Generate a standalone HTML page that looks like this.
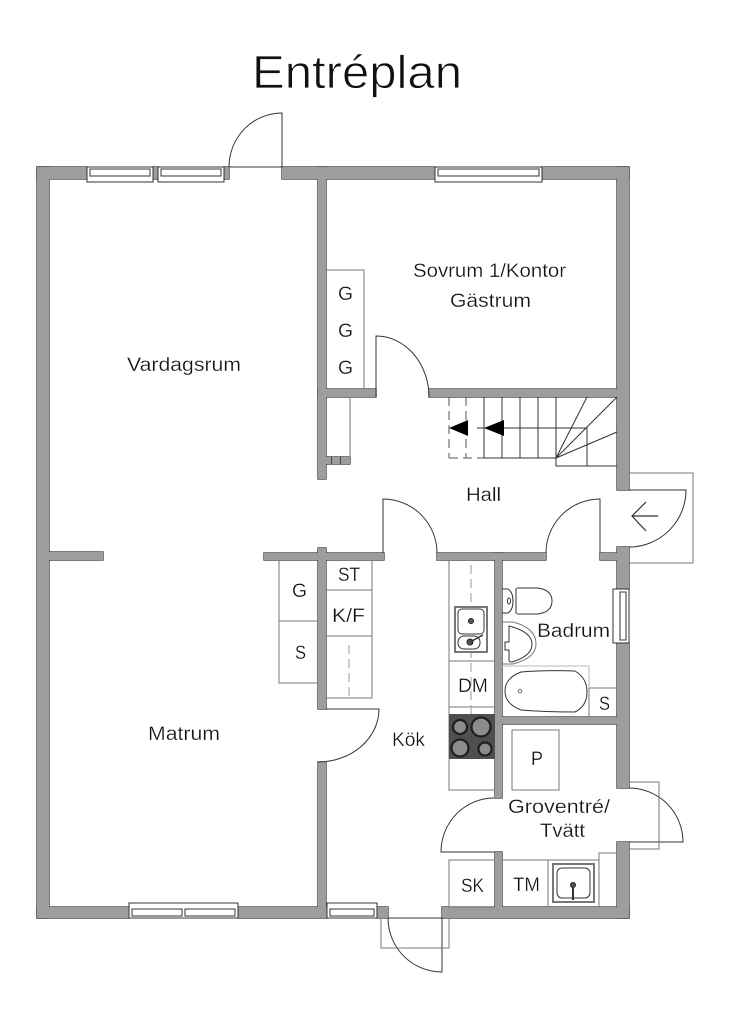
<!DOCTYPE html>
<html><head><meta charset="utf-8"><title>Entréplan</title>
<style>
html,body{margin:0;padding:0;background:#fff}
svg{display:block}
text{font-family:"Liberation Sans",sans-serif;fill:#111;font-size:19px;stroke:#fff;stroke-width:.25}
.l{fill:none;stroke:#333;stroke-width:1}
.g{fill:none;stroke:#777;stroke-width:1}
.d{fill:none;stroke:#aaa;stroke-width:1.2;stroke-dasharray:9 5}
.w{fill:#fff;stroke:#333;stroke-width:1}
</style></head><body>
<svg width="731" height="1024" viewBox="0 0 731 1024" xmlns="http://www.w3.org/2000/svg">
<rect width="731" height="1024" fill="#fff"/>
<defs>
<g id="walls">
<rect x="37" y="167" width="50" height="12"/>
<rect x="153" y="167" width="5" height="12"/>
<rect x="224" y="167" width="5" height="12"/>
<rect x="282" y="167" width="153" height="12"/>
<rect x="542" y="167" width="87" height="12"/>
<rect x="37" y="167" width="12" height="751"/>
<rect x="617" y="167" width="12" height="323"/>
<rect x="318" y="167" width="8" height="312"/>
<rect x="318" y="389" width="58" height="8"/>
<rect x="429" y="389" width="188" height="8"/>
<rect x="49" y="552" width="54" height="8"/>
<rect x="264" y="553" width="120" height="7"/>
<rect x="318" y="548" width="8" height="161"/>
<rect x="318" y="762" width="8" height="150"/>
<rect x="437" y="553" width="109" height="7"/>
<rect x="600" y="553" width="17" height="7"/>
<rect x="617" y="547" width="12" height="42"/>
<rect x="617" y="643" width="12" height="145"/>
<rect x="617" y="842" width="12" height="76"/>
<rect x="495" y="553" width="7" height="245"/>
<rect x="495" y="852" width="7" height="60"/>
<rect x="495" y="717" width="122" height="7"/>
<rect x="37" y="907" width="92" height="11"/>
<rect x="238" y="907" width="89" height="11"/>
<rect x="377" y="907" width="11" height="11"/>
<rect x="442" y="907" width="187" height="11"/>
<rect x="326" y="457" width="5" height="7"/>
<rect x="332" y="457" width="8" height="7"/>
<rect x="341" y="457" width="9" height="7"/>
</g>
</defs>
<use href="#walls" fill="#444" stroke="#444" stroke-width="1.4"/>
<use href="#walls" fill="#9d9d9d"/>

<!-- windows -->
<rect class="w" x="87" y="167" width="66" height="15"/><rect class="w" x="90" y="169" width="60" height="7"/>
<rect class="w" x="158" y="167" width="66" height="15"/><rect class="w" x="161" y="169" width="60" height="7"/>
<rect class="w" x="435" y="167" width="107" height="15"/><rect class="w" x="438" y="169" width="101" height="7"/>
<rect class="w" x="129" y="903" width="109" height="15"/><rect class="w" x="132" y="909" width="50" height="7"/><rect class="w" x="185" y="909" width="50" height="7"/>
<rect class="w" x="327" y="903" width="50" height="15"/><rect class="w" x="330" y="909" width="44" height="7"/>
<rect class="w" x="613" y="589" width="16" height="54"/><rect class="w" x="620" y="592" width="6" height="48"/>

<!-- doors -->
<path class="l" d="M229 167H282V113A53 54 0 0 0 229 167"/>
<path class="l" d="M376 397V336A53 61 0 0 1 429 397"/>
<path class="l" d="M383 553V499A54 54 0 0 1 437 553"/>
<path class="l" d="M600 553V499A54 54 0 0 0 546 553"/>
<path class="l" d="M326 709H379A61 53 0 0 1 318 762"/>
<path class="l" d="M494 798A53 54 0 0 0 441 852H495"/>
<path class="l" d="M629 788A54 54 0 0 1 683 842H629"/>
<path class="l" d="M388 918H442V972A54 54 0 0 1 388 918"/>
<path class="l" d="M629 490H686A57 57 0 0 1 629 547"/>
<path class="g" d="M629 473H693V563H629"/>
<path class="g" d="M629 782H659V849H629"/>
<path class="g" d="M381 918V948H449V918"/>
<path d="M658 516H632M646 502L632 516L646 531" fill="none" stroke="#333" stroke-width="1.2"/>

<!-- stairs -->
<path class="l" d="M484 397V458M502 397V458M520 397V458M538 397V458M556 397V458M484 458H556"/>
<path fill="none" stroke="#555" stroke-dasharray="9 5" d="M449 397V458M466 397V458M449 458H484"/>
<path class="l" d="M477 428H587V466M556 458V466H617M556 458L587 397M556 458L617 397M556 458L617 432"/>
<path d="M449 428L468 420V436Z M484 428L504 420V436Z" fill="#000"/>

<!-- closets -->
<path class="g" d="M326 270H364V389"/>
<path class="g" d="M350 397V457"/>
<path class="g" d="M372 560V698H326M326 590H372M326 636H372"/>
<path class="d" d="M349 645V700"/>
<path class="g" d="M279 560V683H318M279 621H318"/>

<!-- kitchen -->
<path class="g" d="M449 560V790H495M449 661H495M449 707H495"/>
<path class="d" d="M471 565V720"/>
<rect x="449" y="714" width="46" height="45" fill="#4f4f4f"/>
<g fill="#8c8c8c" stroke="#1e1e1e" stroke-width="2.2">
<circle cx="460" cy="727" r="7"/><circle cx="481" cy="727" r="9.5"/><circle cx="460" cy="748" r="8.5"/><circle cx="485" cy="749" r="6.5"/>
</g>
<rect x="455" y="607" width="32" height="45" fill="#fff" stroke="#777" stroke-width="2"/>
<rect x="458" y="609" width="26" height="25" rx="4" class="l"/>
<rect x="458" y="636" width="22" height="13" rx="6" class="l"/>
<circle cx="471" cy="621" r="2.5" fill="#555" stroke="#222"/><circle cx="470" cy="642" r="3" fill="#555" stroke="#222"/>
<path d="M470 642L483 635" stroke="#333" stroke-width="1.5"/>

<!-- bathroom -->
<path class="l" d="M502 589H508Q513 592 513 601Q513 610 508 613H502"/>
<path class="l" d="M516 588V614M517 588H538Q552 590 552 601Q552 612 538 614H517"/>
<ellipse cx="509" cy="601" rx="1.5" ry="3" class="l"/>
<path class="g" d="M502 622H513Q536 628 536 644Q536 658 513 664H502"/>
<path class="l" d="M509 626Q532 632 532 644Q532 656 512 662Q509 662 509 660V650H505V642H509Z"/>
<path fill="none" stroke="#bbb" d="M502 666H589V688"/>
<path class="g" d="M589 688H617M589 688V717"/>
<path class="l" d="M521 672Q545 670 575 671Q587 678 587 692Q587 706 575 712Q545 712 521 710Q505 704 505 691Q505 678 521 672Z"/>
<circle cx="520" cy="691" r="1.7" class="g"/>

<!-- utility -->
<rect class="g" x="512" y="730" width="47" height="60"/>
<path class="g" d="M494 860H449V907H494"/>
<path class="g" d="M502 860H599V907M599 860V853H617M548 860V907"/>
<rect x="553" y="864" width="41" height="38" fill="#fff" stroke="#777" stroke-width="2"/>
<rect x="557" y="868" width="33" height="30" rx="5" class="l"/>
<circle cx="573" cy="885" r="2.5" fill="#555" stroke="#222"/><path d="M573 887V900" stroke="#333" stroke-width="2"/>

<!-- labels -->
<text x="252" y="88" style="font-size:46px;stroke-width:.8" textLength="210" lengthAdjust="spacingAndGlyphs">Entréplan</text>
<text x="127" y="371" textLength="114" lengthAdjust="spacingAndGlyphs">Vardagsrum</text>
<text x="413" y="277" textLength="153" lengthAdjust="spacingAndGlyphs">Sovrum 1/Kontor</text>
<text x="450" y="307" textLength="81" lengthAdjust="spacingAndGlyphs">Gästrum</text>
<text x="466" y="501" textLength="35" lengthAdjust="spacingAndGlyphs">Hall</text>
<text x="148" y="740" textLength="72" lengthAdjust="spacingAndGlyphs">Matrum</text>
<text x="392" y="746" textLength="33" lengthAdjust="spacingAndGlyphs">Kök</text>
<text x="537" y="637" textLength="73" lengthAdjust="spacingAndGlyphs">Badrum</text>
<text x="508" y="813" textLength="102" lengthAdjust="spacingAndGlyphs">Groventré/</text>
<text x="540" y="837" textLength="45" lengthAdjust="spacingAndGlyphs">Tvätt</text>
<text x="338" y="300" textLength="15" lengthAdjust="spacingAndGlyphs">G</text>
<text x="338" y="337" textLength="15" lengthAdjust="spacingAndGlyphs">G</text>
<text x="338" y="374" textLength="15" lengthAdjust="spacingAndGlyphs">G</text>
<text x="338" y="581" textLength="22" lengthAdjust="spacingAndGlyphs">ST</text>
<text x="332" y="622" textLength="33" lengthAdjust="spacingAndGlyphs">K/F</text>
<text x="292" y="597" textLength="15" lengthAdjust="spacingAndGlyphs">G</text>
<text x="295" y="659" textLength="11" lengthAdjust="spacingAndGlyphs">S</text>
<text x="458" y="692" textLength="30" lengthAdjust="spacingAndGlyphs">DM</text>
<text x="599" y="710" textLength="11" lengthAdjust="spacingAndGlyphs">S</text>
<text x="531" y="765" textLength="12" lengthAdjust="spacingAndGlyphs">P</text>
<text x="461" y="892" textLength="23" lengthAdjust="spacingAndGlyphs">SK</text>
<text x="513" y="891" textLength="27" lengthAdjust="spacingAndGlyphs">TM</text>
</svg>
</body></html>
